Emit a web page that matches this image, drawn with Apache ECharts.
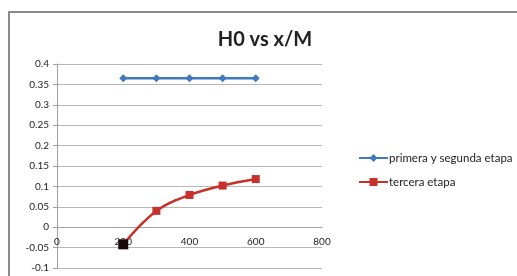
<!DOCTYPE html>
<html>
<head>
<meta charset="utf-8">
<script src="https://cdn.jsdelivr.net/npm/echarts@6/dist/echarts.min.js"></script>
<style>
  html, body { margin: 0; padding: 0; background: #fff; }
  #main { width: 517px; height: 276px; }
</style>
</head>
<body>
<div id="main"></div>
<script>
// datos
const xPrimera = [200, 300, 400, 500, 600];
const yPrimera = [0.365, 0.365, 0.365, 0.365, 0.365];
const xTercera = [200, 300, 400, 500, 600];
const yTercera = [-0.042, 0.04, 0.079, 0.102, 0.118];
const yTicks = [-0.1, -0.05, 0, 0.05, 0.1, 0.15, 0.2, 0.25, 0.3, 0.35, 0.4];
const xTicks = [0, 200, 400, 600, 800];

const fontFam = 'Lato, "Open Sans", sans-serif';

const chart = echarts.init(document.getElementById('main'));

const option = {
    animation: false,
    backgroundColor: '#fff',
    title: {
        text: 'H0 vs x/M',
        left: 260,
        textAlign: 'center',
        top: 25,
        textStyle: { fontSize: 20, fontWeight: 'bold', color: '#222', fontFamily: fontFam }
    },
    grid: { left: 57, right: 195, top: 64, bottom: 8, outerBoundsMode: 'none' },
    legend: {
        orient: 'vertical',
        left: 353,
        top: 147,
        itemGap: 12,
        itemWidth: 29,
        itemHeight: 10,
        textStyle: { fontSize: 11.5, color: '#222', fontFamily: fontFam, padding: [0, 0, 0, -4] },
        data: ['primera y segunda etapa', 'tercera etapa']
    },
    xAxis: {
        type: 'value',
        min: xTicks[0],
        max: xTicks[xTicks.length - 1],
        interval: 200,
        offset: 0,
        axisLine: { onZero: false, lineStyle: { color: '#a0a0a0' } },
        axisTick: { show: false },
        splitLine: { show: false },
        axisLabel: { fontSize: 10, color: '#222', fontFamily: fontFam, margin: 10 }
    },
    yAxis: {
        type: 'value',
        min: yTicks[0],
        max: yTicks[yTicks.length - 1],
        interval: 0.05,
        axisLine: { show: true, onZero: false, lineStyle: { color: '#a0a0a0' } },
        axisTick: { show: true, length: 4, lineStyle: { color: '#a0a0a0' } },
        splitLine: { lineStyle: { color: '#b8b8b8' } },
        axisLabel: {
            fontSize: 10, color: '#222', fontFamily: fontFam, margin: 8,
            formatter: v => String(Math.round(v * 100) / 100)
        }
    },
    series: [
        {
            name: 'primera y segunda etapa',
            type: 'line',
            data: xPrimera.map((x, i) => [x, yPrimera[i]]),
            symbol: 'diamond',
            symbolSize: 8,
            itemStyle: { color: '#3f79c0' },
            lineStyle: { width: 2.5, color: '#3f79c0' }
        },
        {
            name: 'tercera etapa',
            type: 'line',
            smooth: 0.4,
            data: xTercera.map((x, i) => i === 0
                ? { value: [x, yTercera[i]], symbolSize: 10, itemStyle: { color: '#1a0a0a' } }
                : [x, yTercera[i]]),
            symbol: 'rect',
            symbolSize: 8,
            itemStyle: { color: '#c8302c' },
            lineStyle: { width: 2.5, color: '#c8302c' },
            z: 3
        }
    ],
    graphic: [
        {
            type: 'rect',
            shape: { x: 9, y: 12, width: 520, height: 280 },
            style: { fill: 'none', stroke: '#8a8a8a', lineWidth: 2 },
            silent: true
        }
    ]
};

chart.setOption(option);

// eje x cruzando en y = 0 (como en Excel)
const yZero = chart.convertToPixel({ yAxisIndex: 0 }, 0);
const yBottom = chart.convertToPixel({ yAxisIndex: 0 }, yTicks[0]);
chart.setOption({ xAxis: { offset: yZero - yBottom } });
</script>
</body>
</html>
